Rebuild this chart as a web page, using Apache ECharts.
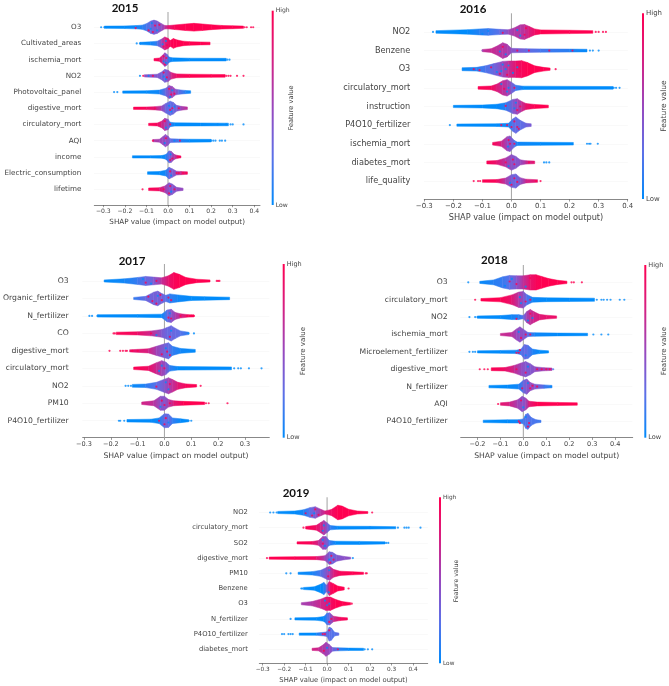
<!DOCTYPE html>
<html><head><meta charset="utf-8">
<style>html,body{margin:0;padding:0;background:#fff}#c{width:669px;height:686px;filter:blur(.3px)}</style>
<script src="https://cdn.jsdelivr.net/npm/echarts@6/dist/echarts.min.js"></script>
</head><body><div id="c"></div>
<script>
// Swarm outlines: for each feature, stops of [SHAP value, half thickness (1/100 of a row), mean feature value 0-100]
// Dots: [SHAP value, row position, feature value 0-100]
const features2015=["O3","Cultivated_areas","ischemia_mort","NO2","Photovoltaic_panel","digestive_mort","circulatory_mort","AQI","income","Electric_consumption","lifetime"];
const ticks2015=[-0.3,-0.2,-0.1,0,0.1,0.2,0.3,0.4];
const swarm2015=[
[[-.295,5,0],[-.2,6,0],[-.15,8,3],[-.12,11,10],[-.1,20,18],[-.08,36,30],[-.065,42,35],[-.05,36,38],[-.03,20,45],[-.015,9,60],[0,8,80],[.03,12,96],[.08,18,100],[.12,22,100],[.16,18,100],[.2,13,100],[.25,9,100],[.3,7,100],[.35,5,100]],
[[-.13,5,0],[-.08,8,3],[-.05,12,15],[-.03,25,50],[-.015,38,75],[0,30,85],[.01,16,95],[.025,28,100],[.04,20,100],[.07,12,100],[.1,9,100],[.15,7,100],[.195,6,100]],
[[-.065,5,100],[-.04,8,95],[-.025,25,65],[-.015,40,50],[-.005,32,40],[.005,14,10],[.02,9,0],[.1,7,0],[.27,6,0]],
[[-.11,5,45],[-.05,8,40],[-.03,22,35],[-.015,38,35],[0,33,40],[.015,18,70],[.04,10,90],[.1,8,100],[.2,7,100],[.265,6,100]],
[[-.21,5,0],[-.1,6,0],[-.04,10,5],[-.01,22,30],[.005,38,45],[.02,32,55],[.035,16,45],[.05,12,30],[.08,8,10],[.105,6,0]],
[[-.16,5,100],[-.1,6,95],[-.06,8,80],[-.03,12,55],[-.01,28,30],[.01,42,25],[.025,34,30],[.04,16,35],[.06,10,50],[.09,6,70]],
[[-.09,5,100],[-.05,7,95],[-.03,18,75],[-.015,36,60],[0,30,45],[.01,12,15],[.03,8,0],[.15,7,0],[.28,6,0]],
[[-.07,5,60],[-.04,7,55],[-.025,22,50],[-.012,36,45],[0,26,50],[.01,10,30],[.05,8,15],[.1,7,0],[.2,6,0]],
[[-.165,5,0],[-.08,5,0],[-.03,6,0],[-.01,12,5],[.005,35,30],[.015,32,40],[.03,12,60],[.045,7,80],[.06,4,95]],
[[-.095,6,0],[-.04,8,0],[-.01,16,5],[.005,34,30],[.02,24,35],[.04,10,50],[.06,8,70],[.09,6,95]],
[[-.09,6,100],[-.04,8,90],[-.015,18,60],[.005,38,40],[.02,30,40],[.04,10,45],[.07,5,50]]];
const dots2015=[[-.31,0,0],[-.295,0,0],[-.285,0,0],[.355,0,100],[.365,0,100],[.385,0,100],[.395,0,100],[-.15,.05,100],[-.09,.2,100],[-.075,-.25,0],[-.05,.2,0],[-.06,-.1,100],[-.08,.1,0],[-.04,-.15,100],[-.07,.3,100],
[-.145,1,0],[-.13,1,0],[-.02,1.2,100],[-.01,.85,0],[-.025,1.05,0],[-.005,1.1,100],
[.275,2,0],[.285,2,0],[-.02,1.8,100],[-.01,2.2,0],[-.02,2.1,0],[-.008,1.9,100],[-.015,2.3,100],
[-.13,3,0],[-.115,3,100],[-.09,3,0],[-.07,3,100],[-.02,2.8,100],[-.01,3.2,0],[-.02,3.05,0],[-.005,3.1,100],[.27,3,100],[.28,3,100],[.29,3,100],[.32,3,100],[.35,3,100],
[-.25,4,0],[-.235,4,0],[.005,3.8,100],[.015,4.15,100],[.01,4.3,0],[.02,3.9,0],[.03,4.1,100],
[-.06,5,100],[.005,4.85,0],[.015,5.2,0],[.02,5,100],[.01,5.1,100],[.03,4.9,0],[.05,5,100],
[.01,6,100],[-.015,5.8,100],[-.01,6.2,0],[.29,6,0],[.3,6,0],[.35,6,0],[.23,6,0],[.27,6,0],
[-.07,7,100],[-.01,6.85,100],[-.015,7.15,0],[.055,7,100],[.03,7,0],[.2,7,0],[.21,7,0],[.22,7,0],[.24,7,0],[.25,7,0],[.265,7,0],
[.01,8.2,100],[.012,7.85,0],[.02,8.1,100],[.045,8,100],[.055,8,100],
[.01,8.9,100],[.015,9.15,0],[.04,9,100],[.05,9,100],[.07,9,100],[.085,9,100],
[-.118,10,100],[.01,9.8,100],[.015,10.15,0],[.005,10.25,100],[.03,10,100],[-.02,10,100]];

const features2016=["NO2","Benzene","O3","circulatory_mort","instruction","P4O10_fertilizer","ischemia_mort","diabetes_mort","life_quality"];
const ticks2016=[-0.3,-0.2,-0.1,0,0.1,0.2,0.3,0.4];
const swarm2016=[
[[-.26,5,0],[-.15,10,0],[-.11,14,10],[-.08,16,15],[-.04,12,25],[-.01,10,50],[.01,20,60],[.03,36,60],[.045,38,65],[.06,28,75],[.08,14,90],[.1,9,100],[.2,7,100],[.28,5,100]],
[[-.1,4,65],[-.07,8,70],[-.05,22,65],[-.03,40,60],[-.015,32,60],[0,10,45],[.05,8,30],[.1,7,20],[.2,6,10],[.26,5,0]],
[[-.17,6,0],[-.12,8,10],[-.09,16,20],[-.06,28,30],[-.03,40,50],[-.01,42,65],[.015,42,85],[.035,44,95],[.055,34,100],[.08,16,100],[.11,8,100],[.133,4,100]],
[[-.115,5,100],[-.07,8,95],[-.05,18,80],[-.03,36,65],[-.015,42,60],[0,28,40],[.015,12,20],[.04,7,0],[.35,5,0]],
[[-.2,4,0],[-.1,6,0],[-.05,10,0],[-.02,18,10],[.005,36,40],[.02,40,50],[.035,25,65],[.05,14,85],[.08,9,100],[.127,5,100]],
[[-.188,4,0],[-.05,5,0],[-.01,8,5],[.005,32,25],[.015,42,30],[.03,24,25],[.05,8,30],[.068,5,40]],
[[-.065,5,100],[-.035,12,75],[-.015,36,50],[-.005,40,45],[.01,16,25],[.02,7,5],[.1,6,0],[.213,5,0]],
[[-.085,6,100],[-.05,8,85],[-.02,22,60],[0,40,45],[.015,30,40],[.03,12,45],[.05,7,65],[.08,5,90]],
[[-.1,5,100],[-.05,6,95],[-.02,14,60],[0,32,35],[.015,36,30],[.03,16,40],[.05,8,70],[.09,5,90]]];
const dots2016=[[-.27,0,0],[.29,0,100],[.3,0,100],[.315,0,100],[.325,0,100],[-.1,.1,0],[-.08,-.05,0],[-.03,.05,100],[.03,.2,0],[.05,-.2,100],[.02,-.1,0],[.045,.15,100],
[-.1,1,50],[.27,1,0],[.28,1,0],[.3,1,0],[-.03,.8,100],[-.02,1.2,0],[-.04,1.05,0],[.02,1,100],[.06,1,100],[.13,1,100],[.21,1,100],
[-.13,2,100],[-.11,2.05,100],[-.07,1.9,100],[-.05,2.15,0],[-.04,2.25,100],[-.03,1.75,0],[-.02,2,0],[-.035,2.1,0],[-.01,1.8,0],[-.015,2.3,100],[.005,2.2,0],[.02,1.9,0],[.03,2.1,100],[.152,2,100],
[.352,3,0],[.36,3,0],[.372,3,0],[-.035,2.8,0],[-.015,3.2,0],[-.025,3.05,100],[-.01,3,0],[.01,3,100],
[-.02,3.97,100],[.015,3.8,0],[.02,4.2,100],[.03,4,100],[.01,4.1,0],
[-.212,5,0],[-.035,5,100],[-.015,5,100],[0,5.1,100],[.01,4.8,100],[.025,5.2,100],[.02,5.1,100],
[.26,6,0],[.267,6,0],[.272,6,0],[.297,6,0],[-.01,5.8,100],[-.012,6.15,0],[-.005,6,100],[.01,6,100],
[.112,7,0],[.12,7,0],[.13,7,0],[-.02,7,100],[-.01,7.2,0],[.005,6.85,100],[.01,7.1,100],[.06,7,100],
[-.13,8,100],[-.115,8,100],[-.108,8,100],[.1,8,100],[.085,8,100],[0,8.2,100],[.01,7.85,100],[.02,8.05,100],[-.005,8.1,0]];

const features2017=["O3","Organic_fertilizer","N_fertilizer","CO","digestive_mort","circulatory_mort","NO2","PM10","P4O10_fertilizer"];
const ticks2017=[-0.3,-0.2,-0.1,0,0.1,0.2,0.3];
const swarm2017=[
[[-.225,4,0],[-.15,10,5],[-.1,18,15],[-.07,24,30],[-.04,20,35],[-.01,16,65],[.015,28,85],[.035,46,95],[.055,36,100],[.08,18,100],[.12,8,100],[.17,4,100]],
[[-.115,4,10],[-.07,10,30],[-.04,34,35],[-.025,40,35],[-.01,26,35],[.005,16,25],[.02,24,15],[.05,18,5],[.1,10,0],[.15,8,0],[.243,5,0]],
[[-.25,5,0],[-.1,6,0],[-.01,8,0],[.01,32,25],[.025,36,40],[.04,18,55],[.06,10,70],[.09,5,95],[.11,4,100]],
[[-.18,5,100],[-.1,7,90],[-.05,12,70],[-.01,20,40],[.01,32,30],[.025,42,30],[.04,28,30],[.06,12,25],[.09,5,10]],
[[-.13,4,90],[-.06,10,75],[-.03,24,55],[0,38,35],[.015,44,30],[.03,24,15],[.06,12,5],[.115,6,0]],
[[-.115,5,100],[-.06,10,90],[-.03,30,70],[-.01,42,55],[.005,34,45],[.02,14,15],[.05,8,0],[.25,6,0]],
[[-.12,6,0],[-.07,8,10],[-.03,18,25],[0,36,40],[.015,44,55],[.03,34,65],[.05,18,80],[.08,9,95],[.12,5,100]],
[[-.085,5,75],[-.04,12,65],[-.015,38,45],[0,38,40],[.015,20,55],[.035,12,80],[.07,9,100],[.15,5,100]],
[[-.14,5,0],[-.05,7,0],[-.02,14,5],[0,38,30],[.015,36,30],[.03,14,15],[.06,9,0],[.09,4,0]]];
const dots2017=[[.195,0,100],[.2,0,100],[.205,0,100],[-.07,.1,100],[-.08,-.1,0],[-.05,.15,0],[-.03,0,100],
[-.06,.9,100],[-.03,1.3,100],[-.015,.8,100],[-.01,1.1,100],[.015,.95,100],[.025,1.1,100],[-.045,1.15,100],[-.025,.85,0],
[-.28,2,0],[-.27,2,0],[-.25,2,0],[-.245,2,0],[.015,2.1,100],[.025,2.15,100],[.02,1.85,0],[.06,2,100],[.085,2,100],[.1,2,100],[.11,2,100],
[-.19,3,100],[-.185,3,100],[-.05,3,100],[-.03,3.1,0],[.02,3.2,100],[.025,2.85,0],[.11,3,0],[.09,3,0],
[-.205,4,100],[-.165,4,100],[-.155,4,100],[-.145,4,100],[-.14,4,100],[-.12,4,100],[-.1,4,100],[-.01,4.2,100],[.005,3.85,0],[.02,4.25,100],[.01,4.05,100],
[.26,5,0],[.275,5,0],[.285,5,0],[.315,5,0],[.362,5,0],[-.01,4.85,0],[-.02,5.15,0],[0,5,100],
[-.145,6,0],[-.135,6,0],[-.125,6,0],[.135,6,100],[-.03,6.05,100],[.005,5.8,0],[.015,6.2,0],[.02,5.9,100],
[.155,7,100],[.165,7,100],[.235,7,100],[-.01,6.85,100],[-.015,7.2,0],[0,7.1,100],[.02,7,100],
[-.17,8,0],[-.165,8,0],[-.15,8,0],[.1,8,0],[.09,8,0],[-.02,8,100],[0,8.2,100],[.005,7.85,100],[.015,8.1,0]];

const features2018=["O3","circulatory_mort","NO2","ischemia_mort","Microelement_fertilizer","digestive_mort","N_fertilizer","AQI","P4O10_fertilizer"];
const ticks2018=[-0.2,-0.1,0,0.1,0.2,0.3,0.4];
const swarm2018=[
[[-.19,4,0],[-.13,12,10],[-.09,30,15],[-.06,38,25],[-.03,36,40],[0,36,65],[.03,42,85],[.055,42,95],[.08,32,100],[.11,20,100],[.15,10,100],[.19,5,100]],
[[-.185,5,100],[-.1,10,100],[-.05,26,85],[-.02,42,60],[0,46,45],[.015,28,25],[.04,12,5],[.1,9,0],[.2,8,0],[.31,7,0]],
[[-.2,5,0],[-.1,7,0],[-.05,12,5],[-.02,12,10],[0,7,25],[.015,30,55],[.03,42,65],[.045,30,70],[.07,14,80],[.1,9,85],[.145,5,90]],
[[-.1,4,70],[-.05,10,65],[-.03,30,50],[-.015,42,45],[0,28,45],[.02,10,30],[.05,8,5],[.15,6,0],[.28,5,0]],
[[-.2,4,0],[-.1,6,0],[-.03,8,5],[-.01,14,20],[.005,40,30],[.02,36,25],[.04,14,10],[.07,8,0],[.11,4,0]],
[[-.14,6,100],[-.08,8,90],[-.04,20,70],[-.01,34,50],[.01,42,40],[.03,30,40],[.05,12,45],[.09,7,55],[.125,5,60]],
[[-.15,5,0],[-.07,7,0],[-.02,12,5],[0,34,30],[.015,42,40],[.03,22,50],[.05,12,45],[.09,8,20],[.125,5,5]],
[[-.1,5,85],[-.06,9,75],[-.025,22,55],[-.005,42,45],[.01,32,45],[.025,14,80],[.06,9,100],[.15,7,100],[.235,5,100]],
[[-.175,5,0],[-.07,7,0],[-.02,8,5],[0,12,20],[.01,38,20],[.02,44,25],[.035,20,20],[.055,8,20],[.077,4,15]]];
const dots2018=[[-.24,0,0],[.21,0,100],[.22,0,100],[.255,0,100],[-.08,.2,0],[-.05,-.2,0],[-.03,.1,100],[-.06,-.05,100],[.01,.25,0],[.03,-.25,100],
[-.21,1,100],[.32,1,0],[.34,1,0],[.35,1,0],[.365,1,0],[.38,1,0],[.42,1,0],[.44,1,0],[-.01,1.2,0],[.03,1,100],[-.015,.85,0],[.01,1.1,100],
[-.235,2,0],[-.21,2,0],[-.2,2,0],[-.03,2.1,100],[.02,2.2,0],[.03,1.8,100],[.04,2.05,0],
[.305,3,0],[.34,3,0],[.37,3,0],[-.01,3.2,100],[-.02,2.85,0],[.01,3,100],[.03,3,100],
[-.235,4,0],[-.22,4,0],[-.21,4,0],[-.03,4.05,100],[-.015,3.9,100],[-.02,4.05,100],[.01,4.2,0],
[-.19,5,100],[-.17,5,100],[-.155,5,100],[.1,5,100],[.115,5,100],[.13,5,20],[-.03,5,100],[.01,5.2,100],[.02,4.85,0],[.06,5,100],[.08,5,100],
[-.005,6.1,100],[.03,6.1,100],[.04,5.95,100],[.02,5.8,0],[.06,6,100],[.12,6,0],
[-.11,7,100],[-.01,6.8,100],[0,7.2,0],
[-.02,8,100],[-.015,8.1,100],[.02,8.3,100],[.01,7.75,0],[.025,8.1,100]];

const features2019=["NO2","circulatory_mort","SO2","digestive_mort","PM10","Benzene","O3","N_fertilizer","P4O10_fertilizer","diabetes_mort"];
const ticks2019=[-0.3,-0.2,-0.1,0,0.1,0.2,0.3,0.4];
const swarm2019=[
[[-.23,5,0],[-.15,8,0],[-.11,16,5],[-.08,30,25],[-.055,36,40],[-.03,20,60],[-.01,8,75],[.02,18,90],[.05,46,100],[.07,40,100],[.1,20,100],[.14,8,100],[.19,4,100]],
[[-.1,6,100],[-.05,14,90],[-.03,32,75],[-.015,46,60],[0,30,45],[.015,12,15],[.05,8,0],[.2,7,0],[.32,5,0]],
[[-.14,5,100],[-.07,7,95],[-.04,14,70],[-.02,40,50],[-.005,40,45],[.01,14,20],[.04,9,0],[.15,8,0],[.27,5,0]],
[[-.27,5,100],[-.15,7,100],[-.05,8,90],[-.01,14,55],[.01,40,35],[.025,36,30],[.045,18,40],[.08,9,45],[.11,4,45]],
[[-.135,5,0],[-.07,9,5],[-.03,18,20],[0,38,45],[.012,44,55],[.03,24,75],[.06,12,95],[.12,8,100],[.17,5,100]],
[[-.11,5,0],[-.06,9,0],[-.03,26,0],[-.015,38,5],[-.002,20,30],[.01,44,85],[.03,30,100],[.05,14,100],[.08,7,100]],
[[-.12,5,55],[-.07,12,60],[-.03,28,70],[-.005,42,75],[.015,42,90],[.04,26,100],[.07,12,100],[.11,5,100]],
[[-.15,5,0],[-.05,7,0],[-.015,14,0],[0,36,20],[.012,38,30],[.03,16,65],[.06,9,90],[.095,5,100]],
[[-.13,5,0],[-.05,6,0],[-.015,10,30],[0,14,25],[.01,44,25],[.02,38,25],[.035,10,20],[.055,5,30]],
[[-.07,5,75],[-.04,8,70],[-.02,26,60],[-.005,44,55],[.01,30,50],[.025,10,40],[.05,8,15],[.1,6,0],[.17,5,0]]];
const dots2019=[[-.265,0,0],[-.25,0,0],[-.235,0,0],[.21,0,100],[-.1,.05,100],[-.07,.2,100],[-.055,-.2,100],[-.06,.05,0],[-.04,.15,100],
[-.11,1,100],[.33,1,0],[.36,1,0],[.37,1,0],[.38,1,0],[.435,1,0],[-.02,1.2,0],[-.015,.85,0],
[.275,2,0],[.285,2,0],[-.02,1.8,0],[-.01,2.2,0],[-.02,2.05,100],
[-.28,3,100],[.12,3,0],[.02,2.85,100],[.01,3.1,0],[.03,3.1,100],[.015,3.3,100],
[-.19,4,0],[-.17,4,0],[.18,4,100],[.185,4,100],[.01,3.8,0],[.005,4.2,100],
[-.12,5,0],[-.115,5,0],[.1,5,100],[.008,5.25,0],
[.115,6,100],[-.01,5.8,0],[0,6.1,0],[.01,6,0],
[-.17,7,0],[.01,7.2,100],[.02,7,100],
[-.21,8,0],[-.2,8,0],[-.18,8,0],[-.17,8,0],[-.16,8,0],[-.02,8,100],[-.01,8,100],[.01,7.75,100],
[.175,9,0],[.19,9,0],[.21,9,0],[-.015,9.1,100],[0,8.9,0],[.05,9,100]];

const years=[2015,2016,2017,2018,2019];
const featureSets=[features2015,features2016,features2017,features2018,features2019];
const tickSets=[ticks2015,ticks2016,ticks2017,ticks2018,ticks2019];
const swarmSets=[swarm2015,swarm2016,swarm2017,swarm2018,swarm2019];
const dotSets=[dots2015,dots2016,dots2017,dots2018,dots2019];

// pixel layout of each panel
const layout=[
 {l:94.3,r:260,top:12,bottom:205,xmin:-.3417,xmax:.4265,ymin:-.94,ymax:10.97,fs:7.2,tx:125,ty:2.5,cb:271.7,cbTop:10.7,cbBot:205,flx:291.7,fly:108,nameGap:14,margin:13},
 {l:424.3,r:627.7,top:13.3,bottom:199.3,xmin:-.3,xmax:.4,ymin:-1,ymax:8.98,fs:8.2,tx:473,ty:3.5,cb:642,cbTop:13.3,cbBot:199,flx:664,fly:106,nameGap:15,margin:14},
 {l:80.7,r:269.3,top:264,bottom:437.7,xmin:-.305,xmax:.391,ymin:-.97,ymax:8.97,fs:7.7,tx:132,ty:255,cb:282.7,cbTop:264,cbBot:437.7,flx:302.7,fly:351,nameGap:14,margin:14},
 {l:460.7,r:632.7,top:265,bottom:437.7,xmin:-.273,xmax:.4765,ymin:-1,ymax:8.94,fs:7.7,tx:494.3,ty:254,cb:644.3,cbTop:265,cbBot:437.7,flx:664,fly:351,nameGap:14,margin:13},
 {l:259.3,r:427.7,top:497.3,bottom:663.3,xmin:-.3157,xmax:.4686,ymin:-1,ymax:9.92,fs:6.8,tx:296,ty:487,cb:439,cbTop:497.3,cbBot:663.3,flx:456.7,fly:581,nameGap:13.5,margin:11.5}];

const cmap=[[0,[0,139,251]],[.25,[92,112,232]],[.5,[152,72,190]],[.75,[214,32,130]],[1,[255,0,81]]];
function col(v){const t=v/100;for(let i=1;i<cmap.length;i++){if(t<=cmap[i][0]){const a=cmap[i-1],b=cmap[i],f=(t-a[0])/(b[0]-a[0]);
 return 'rgb('+a[1].map((p,k)=>Math.round(p+(b[1][k]-p)*f)).join(',')+')';}}return 'rgb(255,0,81)';}
const fam='"DejaVu Sans",sans-serif', grey='#444';
const fmt=v=>(+v).toFixed(1).replace('-','\u2212');

const grid=[],xAxis=[],yAxis=[],series=[],title=[],graphic=[];
years.forEach((yr,p)=>{
 const L=layout[p],feats=featureSets[p],rows=feats.map((_,i)=>i);
 grid.push({left:L.l,top:L.top,width:L.r-L.l,height:L.bottom-L.top,containLabel:false});
 xAxis.push({type:'value',gridIndex:p,min:L.xmin,max:L.xmax,position:'bottom',
  name:'SHAP value (impact on model output)',nameLocation:'middle',nameGap:L.nameGap,
  nameTextStyle:{fontFamily:fam,fontSize:L.fs,color:grey},
  axisLine:{show:true,onZero:false,lineStyle:{color:'#555',width:.7}},
  axisTick:{show:true,length:2.2,customValues:tickSets[p],lineStyle:{color:'#555',width:.6}},
  axisLabel:{customValues:tickSets[p],formatter:fmt,fontFamily:fam,fontSize:L.fs*.85,color:grey,margin:3},
  splitLine:{show:false}});
 yAxis.push({type:'value',gridIndex:p,inverse:true,min:L.ymin,max:L.ymax,position:'left',
  axisLine:{show:false,onZero:false},
  axisTick:{show:false,customValues:rows},
  axisLabel:{customValues:rows,formatter:v=>feats[v],fontFamily:fam,fontSize:L.fs,color:grey,margin:L.margin},
  splitLine:{show:true,lineStyle:{color:'#e6e6e6',width:.5,type:'dotted'}}});
 // zero line
 series.push({type:'custom',xAxisIndex:p,yAxisIndex:p,z:1,silent:true,clip:false,data:[[0]],
  renderItem:(params,api)=>{const a=api.coord([0,L.ymin]),b=api.coord([0,L.ymax]);
   return {type:'line',shape:{x1:a[0],y1:a[1],x2:b[0],y2:b[1]},style:{stroke:'#aaa',lineWidth:1.1}};}});
 // swarm bodies
 const segs=[];
 swarmSets[p].forEach((stops,r)=>{for(let i=0;i<stops.length-1;i++){const s=stops[i],e=stops[i+1];segs.push([s[0],e[0],s[1],e[1],r,s[2],e[2]]);}});
 series.push({type:'custom',xAxisIndex:p,yAxisIndex:p,z:2,silent:true,data:segs,
  encode:{x:[0,1],y:4},
  renderItem:(params,api)=>{
   const x0=api.value(0),x1=api.value(1),h0=api.value(2)/100+.02,h1=api.value(3)/100+.02,r=api.value(4),c0=api.value(5),c1=api.value(6);
   const pts=[api.coord([x0,r-h0]),api.coord([x1,r-h1]),api.coord([x1,r+h1]),api.coord([x0,r+h0])];
   return {type:'polygon',shape:{points:pts},style:{
     fill:new echarts.graphic.LinearGradient(0,0,1,0,[{offset:0,color:col(c0)},{offset:1,color:col(c1)}]),
     stroke:col((c0+c1)/2),lineWidth:.5}};}});
 // individual points
 series.push({type:'scatter',xAxisIndex:p,yAxisIndex:p,z:3,silent:true,symbolSize:2.2,data:dotSets[p],
  itemStyle:{color:o=>col(o.value[2])}});
 title.push({text:String(yr),left:L.tx,top:L.ty,padding:0,textAlign:'center',textStyle:{fontFamily:'Lato,"Liberation Sans",sans-serif',fontWeight:'bold',fontSize:11.5,color:'#111'}});
 // colour bar
 graphic.push({type:'rect',silent:true,shape:{x:L.cb,y:L.cbTop,width:2,height:L.cbBot-L.cbTop},
  style:{fill:new echarts.graphic.LinearGradient(0,1,0,0,cmap.map(s=>({offset:s[0],color:'rgb('+s[1].join(',')+')'})))}});
 const small={fontFamily:fam,fontSize:L.fs*.85,fill:grey,textAlign:'left',textVerticalAlign:'middle'};
 graphic.push({type:'text',silent:true,x:L.cb+4,y:L.cbTop,style:Object.assign({text:'High'},small)});
 graphic.push({type:'text',silent:true,x:L.cb+4,y:L.cbBot,style:Object.assign({text:'Low'},small)});
 graphic.push({type:'text',silent:true,x:L.flx,y:L.fly,rotation:Math.PI/2,
  style:{text:'Feature value',fontFamily:fam,fontSize:L.fs*.92,fill:grey,textAlign:'center',textVerticalAlign:'middle'}});
});
const chart=echarts.init(document.getElementById('c'),null,{renderer:'canvas',width:669,height:686});
chart.setOption({animation:false,backgroundColor:'#fff',title,grid,xAxis,yAxis,series,graphic});
</script></body></html>
